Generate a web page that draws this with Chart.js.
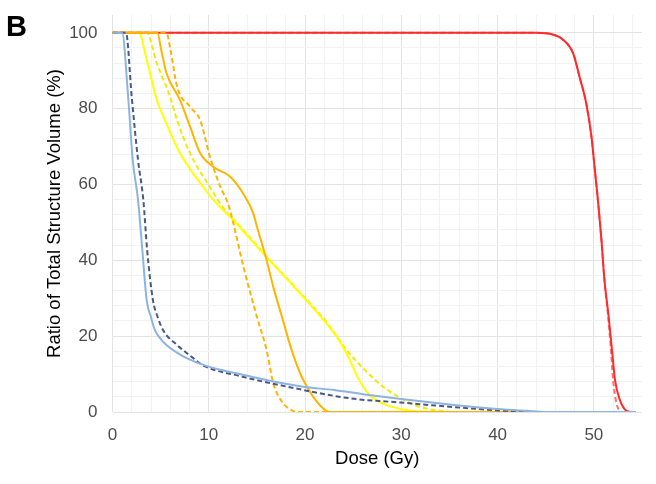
<!DOCTYPE html>
<html>
<head>
<meta charset="utf-8">
<script src="https://cdn.jsdelivr.net/npm/chart.js@4/dist/chart.umd.min.js"></script>
<style>
  html, body { margin: 0; padding: 0; background: #fff; }
  #wrap { width: 656px; height: 484px; }
</style>
</head>
<body>
<div id="wrap"><canvas id="dvh" width="656" height="484"></canvas></div>
<script>
// dose (Gy) / ratio of structure volume (%)
const blueSolidDose = [0, 1.0, 1.6, 2.1, 2.65, 3.1, 3.55, 4.0, 4.4, 5.0, 5.6, 6.5, 7.7, 9.8, 13.2, 17.4, 20, 23, 26, 30, 35, 40, 43, 45, 54.3];
const blueSolidVol  = [100, 100, 84, 66.5, 56, 42.7, 29.5, 25, 21.6, 19.3, 17.7, 16, 14.2, 12.1, 10, 7.7, 6.6, 5.8, 4.7, 3.4, 2.0, 0.8, 0.3, 0, 0];

const blueDashDose = [0, 1.4, 2.0, 2.65, 3.2, 3.6, 4.2, 4.7, 5.25, 6.7, 8.4, 9.4, 13.2, 18.1, 24.7, 29.9, 35, 40.2, 44, 54.3];
const blueDashVol  = [100, 100, 83, 66.5, 56, 42.7, 29.5, 25, 21.6, 17.7, 14.2, 12.3, 9.5, 6.7, 3.6, 2.5, 1.4, 0.4, 0, 0];

const yellowSolidDose = [0, 2.75, 3.55, 4.6, 5.45, 7.0, 9.4, 10.5, 12.5, 15.8, 19.8, 22.2, 23.5, 24.5, 25.5, 26.7, 28.5, 31, 33, 54.3];
const yellowSolidVol  = [100, 100, 92.9, 82.3, 77, 68.3, 59.4, 55.9, 50.7, 41.4, 30.4, 23.4, 19, 14.5, 9, 4.5, 1.8, 0.3, 0, 0];

const yellowDashDose = [0, 3.55, 4.6, 6.0, 6.7, 8.05, 10.1, 11.9, 12.8, 15.8, 19.8, 22.2, 24.3, 26.4, 28.1, 29.9, 31.6, 34, 36, 54.3];
const yellowDashVol  = [100, 100, 92, 83, 77, 68.3, 59.4, 52.5, 50.2, 41.6, 30.6, 23.8, 16.4, 10.6, 6.7, 3.7, 1.6, 0.3, 0, 0];

const orangeSolidDose = [0, 4.65, 5.1, 5.6, 7.0, 8.05, 9.1, 10.45, 12.2, 13.55, 14.6, 15.0, 16.0, 16.7, 17.6, 18.6, 19.65, 20.85, 22.2, 22.6, 54.3];
const orangeSolidVol  = [100, 100, 95, 89.4, 82.3, 75.3, 68.3, 64.7, 62.1, 57.7, 52.5, 48.9, 40.1, 33, 25.1, 16.4, 9.3, 4.0, 0.3, 0, 0];

const orangeDashDose = [0, 5.6, 6.0, 6.7, 8.05, 9.1, 10.1, 11.2, 12.0, 12.55, 13.6, 15.0, 16.0, 16.7, 17.6, 18.6, 19.2, 54.3];
const orangeDashVol  = [100, 100, 95.8, 85.9, 80.5, 77, 67.5, 59.4, 55, 49.8, 38.3, 25.1, 16.4, 7.6, 2.7, 0.5, 0, 0];

const redSolidDose = [0, 44, 45.8, 46.8, 47.85, 48.5, 49.2, 49.75, 50.1, 50.45, 50.8, 51.1, 51.5, 51.85, 52.2, 52.7, 53.4, 54.0, 54.3];
const redSolidVol  = [100, 100, 99.5, 98.2, 94.6, 88.5, 81.5, 72.6, 63.9, 55.1, 45, 34.8, 26, 17.2, 8.4, 3.2, 0.3, 0, 0];

const redDashDose = [0, 44, 45.8, 46.8, 47.85, 48.5, 49.2, 49.75, 50.1, 50.45, 50.8, 51.1, 51.45, 51.75, 52.0, 52.35, 53.0, 54.3];
const redDashVol  = [100, 100, 99.5, 98.2, 94.6, 88.5, 81.5, 72.6, 63.9, 55.1, 45, 34.8, 26, 17.2, 8.4, 2.3, 0, 0];

const xTicks = [0, 10, 20, 30, 40, 50];
const yTicks = [0, 20, 40, 60, 80, 100];

const pts = (xs, ys) => xs.map((x, i) => ({ x, y: ys[i] }));

function series(label, xs, ys, color, dashed) {
  return {
    label,
    data: pts(xs, ys),
    borderColor: color,
    borderWidth: 2,
    borderDash: dashed ? [5, 3] : [],
    pointRadius: 0,
    fill: false,
    cubicInterpolationMode: 'monotone'
  };
}

const FONT = "'Liberation Sans', Arial, sans-serif";

// panel letter
const panelLetter = {
  id: 'panelLetter',
  afterDraw(chart) {
    const c = chart.ctx;
    c.save();
    c.font = 'bold 29px ' + FONT;
    c.fillStyle = '#000';
    c.textBaseline = 'alphabetic';
    c.fillText('B', 6, 36);
    c.restore();
  }
};

const ctx = document.getElementById('dvh').getContext('2d');
new Chart(ctx, {
  type: 'line',
  data: {
    datasets: [
      series('Light blue', blueSolidDose, blueSolidVol, '#8db4e0', false),
      series('Dark blue', blueDashDose, blueDashVol, '#4a5984', true),
      series('Orange', orangeSolidDose, orangeSolidVol, '#ffb400', false),
      series('Orange dashed', orangeDashDose, orangeDashVol, '#ffb400', true),
      series('Red', redSolidDose, redSolidVol, '#ff2b2b', false),
      series('Yellow', yellowSolidDose, yellowSolidVol, '#ffff00', false),
      series('Yellow dashed', yellowDashDose, yellowDashVol, '#f2ea00', true),
      series('Red dashed', redDashDose, redDashVol, '#ff6f6f', true)
    ]
  },
  options: {
    responsive: false,
    animation: false,
    devicePixelRatio: 1,
    layout: { padding: { left: 0, top: 15, right: 14, bottom: 0 } },
    plugins: { legend: { display: false }, tooltip: { enabled: false } },
    scales: {
      x: {
        type: 'linear',
        bounds: 'data',
        min: 0,
        max: 55,
        border: { display: false },
        grid: {
          drawTicks: false,
          lineWidth: 1,
          color: c => {
            const v = c.tick ? c.tick.value : 0;
            if (xTicks.includes(v)) return '#e3e3e3';
            return v % 2 === 0 ? '#f2f2f2' : 'rgba(0,0,0,0)';
          }
        },
        ticks: {
          stepSize: 2,
          autoSkip: false,
          maxRotation: 0,
          padding: 13,
          color: '#4d4d4d',
          font: { family: FONT, size: 17 },
          callback: v => xTicks.includes(v) ? String(v) : ''
        },
        title: {
          display: true,
          text: 'Dose (Gy)',
          color: '#000',
          font: { family: FONT, size: 18.5 },
          padding: { top: 0, bottom: 14 }
        },
        afterFit: s => { s.height = 72; s.paddingLeft = 0; s.paddingRight = 0; }
      },
      y: {
        bounds: 'data',
        min: 0,
        max: 104.7,
        border: { display: false },
        grid: {
          drawTicks: false,
          lineWidth: 1,
          color: c => {
            const v = c.tick ? c.tick.value : 0;
            if (yTicks.includes(v)) return '#e3e3e3';
            return v % 4 === 0 ? '#f2f2f2' : 'rgba(0,0,0,0)';
          }
        },
        ticks: {
          stepSize: 4,
          autoSkip: false,
          padding: 15,
          color: '#4d4d4d',
          font: { family: FONT, size: 17 },
          callback: v => yTicks.includes(v) ? String(v) : ''
        },
        title: {
          display: true,
          text: 'Ratio of Total Structure Volume (%)',
          color: '#000',
          font: { family: FONT, size: 18.5 },
          padding: { top: 44, bottom: 0 }
        },
        afterFit: s => { s.width = 112.5; s.paddingTop = 0; s.paddingBottom = 0; }
      }
    }
  },
  plugins: [panelLetter]
});
</script>
</body>
</html>
